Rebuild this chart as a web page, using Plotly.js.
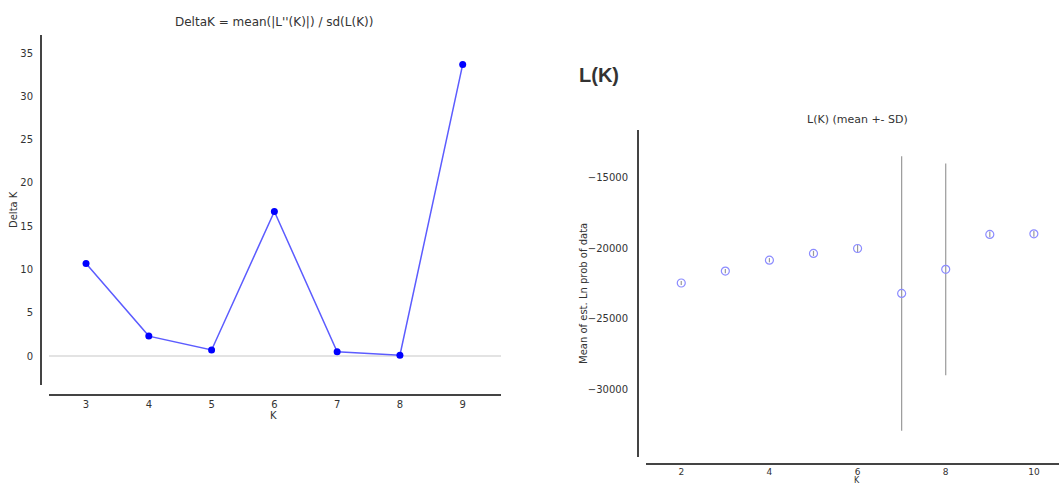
<!DOCTYPE html>
<html>
<head>
<meta charset="utf-8">
<script src="https://cdn.plot.ly/plotly-3.0.1.min.js"></script>
<style>html,body{margin:0;padding:0;background:#fff;overflow:hidden}#chart{width:1059px;height:486px}</style>
</head>
<body>
<div id="chart"></div>
<script>
// Delta K panel
const deltaK_K = [3, 4, 5, 6, 7, 8, 9];
const deltaK_values = [10.7, 2.3, 0.7, 16.7, 0.5, 0.1, 33.7];

// L(K) panel
const lk_K = [2, 3, 4, 5, 6, 7, 8, 9, 10];
const lk_mean = [-22460, -21610, -20840, -20360, -20010, -23200, -21490, -19010, -18970];
const lk_sd = [150, 150, 150, 180, 250, 9740, 7510, 200, 200];

const W = 1059, H = 486;
const px = v => v / W;
const py = v => 1 - v / H;
const FONT = "DejaVu Sans, sans-serif";
const TXT = "#333333";

const traces = [
  {
    x: deltaK_K, y: deltaK_values, type: "scatter", mode: "lines+markers",
    line: {color: "#5c5cff", width: 1.5},
    marker: {color: "#0000ff", size: 7},
    xaxis: "x", yaxis: "y", hoverinfo: "x+y"
  },
  {
    x: lk_K, y: lk_mean, type: "scatter", mode: "markers",
    marker: {symbol: "circle-open", color: "#8c8cff", size: 8, line: {width: 1.2}},
    error_y: {type: "data", array: lk_sd, visible: true, color: "#9a9a9a", thickness: 1.2, width: 0},
    xaxis: "x2", yaxis: "y2", hoverinfo: "x+y"
  }
];

const axisCommon = {
  showgrid: false, ticks: "", showline: true, linecolor: "#444444", linewidth: 1.6,
  tickfont: {family: FONT, size: 10, color: TXT}, fixedrange: true
};

const layout = {
  width: W, height: H,
  margin: {l: 0, r: 0, t: 0, b: 0},
  paper_bgcolor: "#ffffff", plot_bgcolor: "#ffffff",
  showlegend: false,
  xaxis: Object.assign({}, axisCommon, {
    domain: [px(49), px(501)], range: [2.41, 9.61], tickmode: "array", tickvals: deltaK_K,
    anchor: "free", position: py(394), zeroline: false, ticklabelstandoff: 0
  }),
  yaxis: Object.assign({}, axisCommon, {
    domain: [py(385), py(35)], range: [-3.35, 37.1], dtick: 5, tick0: 0,
    anchor: "free", position: px(40), zeroline: true, zerolinecolor: "#e3e3e3", zerolinewidth: 2,
    ticklabelstandoff: 5
  }),
  xaxis2: Object.assign({}, axisCommon, {
    domain: [px(646), 1], range: [1.2, 10.57], dtick: 2, tick0: 0,
    anchor: "free", position: py(463), zeroline: false, ticklabelstandoff: 0,
    tickfont: {family: FONT, size: 9, color: TXT}
  }),
  yaxis2: Object.assign({}, axisCommon, {
    domain: [py(457), py(130)], range: [-34810, -11600], dtick: 5000, tick0: 0,
    tickformat: "d",
    anchor: "free", position: px(637), zeroline: false, ticklabelstandoff: 7
  }),
  annotations: [
    {text: "DeltaK = mean(|L''(K)|) / sd(L(K))", x: px(274), y: py(22), xref: "paper", yref: "paper",
     xanchor: "center", yanchor: "middle", showarrow: false, font: {family: FONT, size: 12, color: TXT}},
    {text: "Delta K", x: px(14), y: py(210), xref: "paper", yref: "paper", textangle: -90,
     xanchor: "center", yanchor: "middle", showarrow: false, font: {family: FONT, size: 10, color: TXT}},
    {text: "K", x: px(273), y: py(415), xref: "paper", yref: "paper",
     xanchor: "center", yanchor: "middle", showarrow: false, font: {family: FONT, size: 10, color: TXT}},
    {text: "<b>L(K)</b>", x: px(577), y: py(75), xref: "paper", yref: "paper",
     xanchor: "left", yanchor: "middle", showarrow: false, font: {family: "Liberation Sans, Arial, sans-serif", size: 20, color: TXT}},
    {text: "L(K) (mean +- SD)", x: px(857), y: py(119), xref: "paper", yref: "paper",
     xanchor: "center", yanchor: "middle", showarrow: false, font: {family: FONT, size: 11, color: TXT}},
    {text: "Mean of est. Ln prob of data", x: px(583), y: py(294), xref: "paper", yref: "paper", textangle: -90,
     xanchor: "center", yanchor: "middle", showarrow: false, font: {family: FONT, size: 10, color: TXT}},
    {text: "K", x: px(857), y: 0, xref: "paper", yref: "paper",
     xanchor: "center", yanchor: "bottom", showarrow: false, borderpad: 0, font: {family: FONT, size: 8, color: TXT}}
  ]
};

Plotly.newPlot("chart", traces, layout, {displayModeBar: false, staticPlot: true});
</script>
</body>
</html>
